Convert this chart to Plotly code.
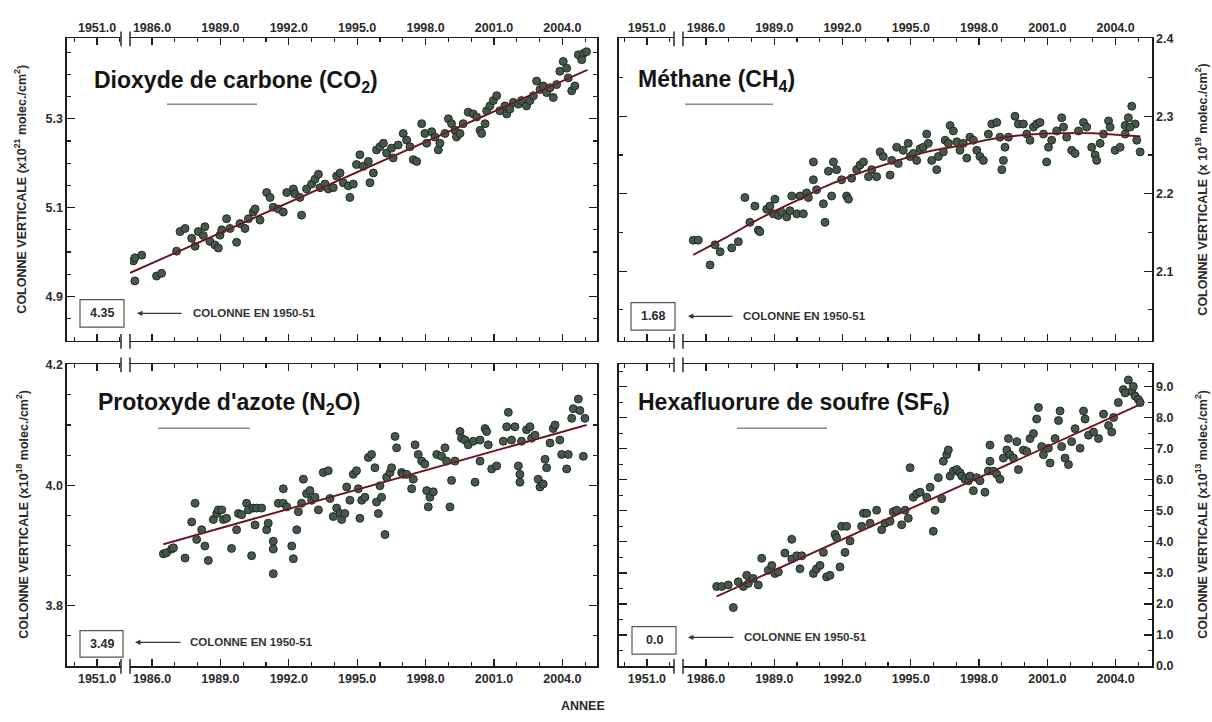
import plotly.graph_objects as go

W, H = 1212, 722

# ---------------- data ----------------
co2_years = [1985.18, 1985.25, 1985.55, 1985.25, 1986.20, 1986.42, 1987.08, 1987.23, 1987.45, 1987.74,
             1987.89, 1988.03, 1988.32, 1988.25, 1988.54, 1988.76, 1988.91, 1988.98, 1989.27, 1989.06,
             1989.42, 1989.71, 1989.86, 1990.08, 1990.23, 1990.44, 1990.52, 1990.74, 1991.03, 1991.18,
             1991.32, 1991.54, 1991.76, 1991.91, 1992.20, 1992.27, 1992.56, 1992.49, 1992.78, 1993.00,
             1993.15, 1993.30, 1993.37, 1993.59, 1993.73, 1993.95, 1994.10, 1994.25, 1994.39, 1994.61,
             1994.68, 1994.83, 1994.97, 1995.12, 1995.27, 1995.49, 1995.56, 1995.71, 1995.85, 1996.00,
             1996.15, 1996.29, 1996.51, 1996.58, 1996.80, 1997.02, 1997.17, 1997.32, 1997.46, 1997.61,
             1997.83, 1997.97, 1998.05, 1998.27, 1998.41, 1998.56, 1998.63, 1998.85, 1999.00, 1999.14,
             1999.29, 1999.36, 1999.51, 1999.65, 1999.87, 2000.09, 2000.24, 2000.39, 2000.46, 2000.61,
             2000.68, 2000.82, 2000.97, 2001.12, 2001.26, 2001.48, 2001.56, 2001.70, 2001.85, 2002.07,
             2002.21, 2002.43, 2002.58, 2002.73, 2002.87, 2003.02, 2003.16, 2003.31, 2003.46, 2003.60,
             2003.75, 2003.89, 2004.04, 2004.19, 2004.26, 2004.41, 2004.55, 2004.70, 2004.92, 2005.06,
             2004.85]
co2_vals = [4.980, 4.987, 4.993, 4.935, 4.946, 4.952, 5.002, 5.046, 5.053, 5.031,
            5.013, 5.046, 5.057, 5.037, 5.024, 5.016, 5.009, 5.038, 5.075, 5.050,
            5.053, 5.022, 5.064, 5.053, 5.075, 5.090, 5.097, 5.072, 5.134, 5.123,
            5.101, 5.097, 5.090, 5.134, 5.142, 5.131, 5.083, 5.123, 5.142, 5.153,
            5.164, 5.175, 5.145, 5.153, 5.142, 5.145, 5.171, 5.178, 5.156, 5.149,
            5.123, 5.153, 5.197, 5.219, 5.193, 5.204, 5.156, 5.178, 5.230, 5.237,
            5.245, 5.223, 5.234, 5.212, 5.241, 5.267, 5.252, 5.237, 5.208, 5.204,
            5.289, 5.267, 5.245, 5.271, 5.259, 5.230, 5.245, 5.267, 5.300, 5.289,
            5.274, 5.259, 5.267, 5.289, 5.315, 5.311, 5.304, 5.274, 5.267, 5.289,
            5.318, 5.329, 5.341, 5.352, 5.318, 5.329, 5.311, 5.322, 5.337, 5.333,
            5.341, 5.329, 5.341, 5.352, 5.385, 5.366, 5.374, 5.359, 5.370, 5.348,
            5.377, 5.407, 5.429, 5.414, 5.392, 5.363, 5.374, 5.444, 5.447, 5.451,
            5.433]
co2_fit_years = [1985.04, 2005.10]
co2_fit_vals = [4.953, 5.410]

ch4_years = [1985.44, 1985.66, 1986.18, 1986.40, 1986.62, 1987.13, 1987.42, 1987.71, 1987.93, 1988.15,
             1988.30, 1988.37, 1988.67, 1988.81, 1989.03, 1988.96, 1989.18, 1989.33, 1989.55, 1989.69,
             1989.77, 1989.99, 1990.13, 1990.28, 1990.42, 1990.50, 1990.72, 1990.72, 1990.86, 1991.16,
             1991.23, 1991.38, 1991.52, 1991.60, 1991.74, 1991.96, 1992.18, 1992.26, 1992.40, 1992.62,
             1992.77, 1992.92, 1993.14, 1993.28, 1993.50, 1993.65, 1993.79, 1994.09, 1994.16, 1994.38,
             1994.45, 1994.67, 1994.89, 1994.97, 1995.11, 1995.26, 1995.41, 1995.55, 1995.70, 1995.77,
             1995.92, 1996.14, 1996.21, 1996.43, 1996.51, 1996.65, 1996.73, 1996.87, 1997.02, 1997.16,
             1997.31, 1997.46, 1997.60, 1997.75, 1997.90, 1998.04, 1998.19, 1998.41, 1998.56, 1998.78,
             1998.92, 1999.00, 1999.07, 1999.14, 1999.29, 1999.58, 1999.73, 1999.95, 2000.10, 2000.24,
             2000.39, 2000.53, 2000.68, 2000.83, 2000.97, 2001.05, 2001.19, 2001.41, 2001.63, 2001.71,
             2001.85, 2002.07, 2002.22, 2002.37, 2002.59, 2002.73, 2002.95, 2003.10, 2003.17, 2003.32,
             2003.47, 2003.69, 2003.76, 2003.98, 2004.20, 2004.42, 2004.56, 2004.71, 2004.86, 2004.93,
             2005.08, 2004.64, 2004.42]
ch4_vals = [2.140, 2.140, 2.108, 2.134, 2.125, 2.130, 2.138, 2.195, 2.163, 2.184,
            2.153, 2.151, 2.180, 2.184, 2.193, 2.174, 2.172, 2.176, 2.170, 2.178,
            2.197, 2.174, 2.197, 2.174, 2.201, 2.195, 2.241, 2.218, 2.205, 2.187,
            2.163, 2.229, 2.197, 2.241, 2.231, 2.218, 2.197, 2.193, 2.220, 2.231,
            2.237, 2.241, 2.222, 2.231, 2.222, 2.254, 2.248, 2.224, 2.243, 2.260,
            2.239, 2.256, 2.265, 2.248, 2.252, 2.243, 2.258, 2.260, 2.277, 2.265,
            2.243, 2.231, 2.248, 2.254, 2.269, 2.265, 2.288, 2.281, 2.267, 2.256,
            2.265, 2.246, 2.273, 2.269, 2.256, 2.248, 2.243, 2.277, 2.290, 2.292,
            2.273, 2.231, 2.243, 2.260, 2.273, 2.300, 2.290, 2.290, 2.277, 2.269,
            2.286, 2.290, 2.292, 2.277, 2.241, 2.260, 2.269, 2.281, 2.298, 2.286,
            2.273, 2.256, 2.252, 2.281, 2.292, 2.286, 2.260, 2.250, 2.243, 2.265,
            2.277, 2.294, 2.286, 2.256, 2.260, 2.288, 2.298, 2.313, 2.290, 2.269,
            2.254, 2.286, 2.277]
ch4_fit_years = [1985.44, 1986.91, 1988.37, 1989.84, 1991.30, 1992.77, 1994.23, 1995.70,
                 1997.16, 1998.63, 2000.10, 2001.56, 2003.03, 2004.49, 2005.08]
ch4_fit_vals = [2.121, 2.144, 2.168, 2.189, 2.210, 2.227, 2.241, 2.254,
                2.262, 2.271, 2.276, 2.278, 2.278, 2.275, 2.274]

n2o_years = [1986.50, 1986.64, 1986.86, 1986.94, 1987.45, 1987.74, 1987.89, 1987.96, 1988.18, 1988.32,
             1988.47, 1988.69, 1988.84, 1988.91, 1989.06, 1989.13, 1989.27, 1989.49, 1989.71, 1989.79,
             1989.93, 1990.15, 1990.23, 1990.37, 1990.44, 1990.59, 1990.52, 1990.81, 1991.03, 1991.10,
             1991.32, 1991.32, 1991.32, 1991.54, 1991.76, 1991.76, 1991.91, 1992.13, 1992.20, 1992.35,
             1992.42, 1992.56, 1992.64, 1992.78, 1992.93, 1993.00, 1993.15, 1993.30, 1993.51, 1993.73,
             1993.81, 1993.95, 1994.10, 1994.25, 1994.32, 1994.46, 1994.54, 1994.68, 1994.83, 1994.97,
             1995.12, 1995.05, 1995.20, 1995.34, 1995.49, 1995.63, 1995.78, 1995.85, 1995.93, 1996.00,
             1996.07, 1996.22, 1996.29, 1996.44, 1996.51, 1996.66, 1996.73, 1996.95, 1997.02, 1997.17,
             1997.39, 1997.46, 1997.54, 1997.68, 1997.83, 1997.97, 1998.05, 1998.12, 1998.19, 1998.34,
             1998.49, 1998.70, 1998.85, 1998.92, 1999.07, 1999.14, 1999.29, 1999.51, 1999.58, 1999.73,
             1999.87, 2000.09, 2000.17, 2000.39, 2000.39, 2000.61, 2000.68, 2000.75, 2000.90, 2001.12,
             2001.41, 2001.56, 2001.63, 2001.77, 2001.92, 2002.07, 2002.14, 2002.14, 2002.21, 2002.43,
             2002.58, 2002.65, 2002.80, 2002.94, 2003.02, 2003.16, 2003.24, 2003.31, 2003.46, 2003.60,
             2003.68, 2003.89, 2003.97, 2004.19, 2004.26, 2004.41, 2004.48, 2004.70, 2004.77, 2004.99,
             2004.92]
n2o_vals = [3.886, 3.888, 3.894, 3.896, 3.879, 3.939, 3.970, 3.910, 3.926, 3.899,
            3.875, 3.943, 3.953, 3.959, 3.959, 3.943, 3.945, 3.895, 3.926, 3.953,
            3.951, 3.970, 3.959, 3.883, 3.962, 3.962, 3.934, 3.962, 3.926, 3.937,
            3.907, 3.894, 3.853, 3.970, 3.970, 3.994, 3.964, 3.899, 3.878, 3.926,
            3.956, 3.970, 4.010, 3.986, 3.991, 3.975, 3.980, 3.959, 4.021, 4.024,
            3.978, 3.948, 3.962, 3.953, 3.943, 3.953, 3.997, 3.975, 4.018, 4.024,
            3.945, 3.994, 3.975, 3.980, 4.046, 4.051, 4.029, 3.972, 3.953, 3.999,
            3.980, 3.918, 4.013, 4.021, 4.029, 4.081, 4.062, 4.021, 4.018, 4.018,
            3.994, 4.010, 4.067, 4.051, 4.040, 4.035, 3.991, 3.964, 3.980, 3.989,
            4.051, 4.048, 4.062, 4.040, 3.964, 4.008, 4.040, 4.089, 4.078, 4.075,
            4.067, 4.073, 4.005, 4.040, 4.075, 4.094, 4.089, 4.067, 4.027, 4.032,
            4.073, 4.097, 4.121, 4.075, 4.097, 4.032, 4.018, 4.005, 4.073, 4.092,
            4.097, 4.078, 4.083, 4.010, 3.997, 4.002, 4.043, 4.029, 4.070, 4.094,
            4.100, 4.075, 4.051, 4.027, 4.051, 4.111, 4.127, 4.143, 4.124, 4.111,
            4.048]
n2o_fit_years = [1986.50, 2005.06]
n2o_fit_vals = [3.902, 4.100]

sf6_years = [1986.47, 1986.69, 1986.98, 1987.20, 1987.42, 1987.64, 1987.79, 1987.86, 1988.08, 1988.30,
             1988.45, 1988.74, 1988.89, 1989.03, 1989.18, 1989.47, 1989.77, 1989.77, 1989.99, 1990.13,
             1990.21, 1990.72, 1990.86, 1991.01, 1991.16, 1991.30, 1991.45, 1991.67, 1991.74, 1991.89,
             1991.96, 1992.11, 1992.18, 1992.33, 1992.84, 1992.92, 1993.06, 1993.21, 1993.50, 1993.72,
             1993.87, 1994.09, 1994.23, 1994.38, 1994.60, 1994.75, 1994.89, 1994.97, 1995.11, 1995.26,
             1995.41, 1995.70, 1995.85, 1995.99, 1996.07, 1996.21, 1996.36, 1996.43, 1996.58, 1996.65,
             1996.73, 1996.87, 1997.02, 1997.16, 1997.24, 1997.38, 1997.53, 1997.60, 1997.75, 1997.90,
             1998.04, 1998.26, 1998.41, 1998.48, 1998.48, 1998.63, 1998.78, 1998.92, 1999.07, 1999.22,
             1999.29, 1999.36, 1999.51, 1999.66, 1999.73, 1999.95, 2000.10, 2000.24, 2000.39, 2000.53,
             2000.61, 2000.75, 2000.83, 2001.05, 2001.12, 2001.34, 2001.49, 2001.56, 2001.63, 2001.78,
             2001.93, 2002.07, 2002.22, 2002.44, 2002.59, 2002.66, 2002.81, 2003.03, 2003.25, 2003.47,
             2003.69, 2003.83, 2003.91, 2004.12, 2004.34, 2004.56, 2004.71, 2004.86, 2005.00, 2005.08,
             2004.42, 2004.78]
sf6_vals = [2.56, 2.56, 2.61, 1.88, 2.71, 2.56, 2.92, 2.66, 2.82, 2.61,
            3.47, 3.08, 3.24, 2.98, 3.03, 3.64, 4.08, 3.45, 3.55, 3.13,
            3.55, 2.98, 3.13, 3.24, 3.66, 2.87, 2.92, 4.24, 4.13, 3.19,
            4.50, 3.66, 4.50, 4.03, 4.50, 4.92, 4.92, 4.60, 5.02, 4.39,
            4.60, 4.66, 4.97, 5.02, 4.55, 5.02, 4.76, 6.39, 5.44, 5.55,
            5.60, 5.44, 5.76, 4.34, 5.02, 6.07, 5.39, 6.60, 6.81, 6.96,
            6.12, 6.28, 6.33, 6.23, 6.12, 6.02, 5.97, 6.12, 5.65, 6.07,
            5.97, 5.60, 6.28, 7.12, 6.60, 6.28, 6.18, 6.02, 6.70, 6.96,
            7.33, 6.81, 6.70, 7.23, 6.33, 6.96, 6.91, 7.33, 7.49, 7.96,
            8.33, 7.07, 6.81, 7.02, 6.54, 7.33, 7.91, 8.22, 7.07, 6.70,
            6.49, 7.23, 7.65, 7.02, 8.22, 7.96, 7.44, 7.54, 7.33, 8.12,
            7.75, 7.54, 8.01, 8.49, 8.91, 9.22, 8.85, 8.70, 8.59, 8.49,
            8.80, 9.01]
sf6_fit_years = [1986.47, 2005.08]
sf6_fit_vals = [2.24, 8.43]

titles = ["Dioxyde de carbone (CO<sub>2</sub>)", "Méthane (CH<sub>4</sub>)",
          "Protoxyde d'azote (N<sub>2</sub>O)", "Hexafluorure de soufre (SF<sub>6</sub>)"]
col_1950_values = ["4.35", "1.68", "3.49", "0.0"]
col_1950_label = "COLONNE EN 1950-51"
y_titles = ["COLONNE VERTICALE (x10<sup>21</sup> molec./cm<sup>2</sup>)",
            "COLONNE VERTICALE (x 10<sup>19</sup> molec./cm<sup>2</sup>)",
            "COLONNE VERTICALE (x10<sup>18</sup> molec./cm<sup>2</sup>)",
            "COLONNE VERTICALE (x10<sup>13</sup> molec./cm<sup>2</sup>)"]
x_title = "ANNEE"
early_tick = [1951]
early_minor = [1950, 1952]

series = [(co2_years, co2_vals, co2_fit_years, co2_fit_vals),
          (ch4_years, ch4_vals, ch4_fit_years, ch4_fit_vals),
          (n2o_years, n2o_vals, n2o_fit_years, n2o_fit_vals),
          (sf6_years, sf6_vals, sf6_fit_years, sf6_fit_vals)]

# ---------------- layout geometry (pixels) ----------------
panels = [
    dict(x0=67, xb0=121, xb1=130, x1=597, y0=33, y1=341, top=True, left=True,
         xr_small=[1949.68, 1952.05], xr_main=[1985.035, 2005.52],
         yr=[4.80, 5.481], ytick0=4.9, ydtick=0.2, yminor=0.05, ymtick0=4.8,
         title_x=92, title_y=77, gl=(167, 257, 100),
         box=(80, 124, 299, 327), arrow=(137, 183, 313), lab_x=191,
         ytitle_x=20, ytitle_y=187, spline=False),
    dict(x0=619, xb0=674, xb1=683, x1=1152, y0=33, y1=341, top=True, left=False,
         xr_small=[1949.77, 1952.19], xr_main=[1984.99, 2005.60],
         yr=[2.01, 2.4005], ytick0=2.1, ydtick=0.1, yminor=0.05, ymtick0=2.0,
         title_x=636, title_y=76, gl=(685, 773, 100),
         box=(631, 675, 302, 330), arrow=(688, 734, 316), lab_x=741,
         ytitle_x=1201, ytitle_y=187, spline=True),
    dict(x0=67, xb0=121, xb1=130, x1=597, y0=365, y1=672, top=False, left=True,
         xr_small=[1949.68, 1952.05], xr_main=[1985.035, 2005.52],
         yr=[3.70, 4.2005], ytick0=3.8, ydtick=0.2, yminor=0.05, ymtick0=3.7,
         title_x=96, title_y=405, gl=(158, 250, 430),
         box=(80, 123, 636, 663), arrow=(135, 182, 648), lab_x=188,
         ytitle_x=22, ytitle_y=518, spline=False),
    dict(x0=619, xb0=674, xb1=683, x1=1152, y0=365, y1=672, top=False, left=False,
         xr_small=[1949.77, 1952.19], xr_main=[1984.99, 2005.60],
         yr=[0.0, 9.72], ytick0=0.0, ydtick=1.0, yminor=0.5, ymtick0=0.0,
         title_x=636, title_y=405, gl=(737, 827, 430),
         box=(632, 676, 632, 660), arrow=(688, 735, 643), lab_x=742,
         ytitle_x=1201, ytitle_y=518, spline=False),
]

FONT = "Liberation Sans, Arial, Helvetica, sans-serif"
INK = "#1c1c1c"
TXT = "#2a2a2a"
tickfont = dict(family=FONT, size=12.5, color=TXT, weight="bold")


def fx(p):
    return p / W


def fy(p):
    return 1 - p / H


def xname(n):
    return "x" if n == 1 else f"x{n}"


def yname(n):
    return "y" if n == 1 else f"y{n}"


def xkey(n):
    return "xaxis" if n == 1 else f"xaxis{n}"


def ykey(n):
    return "yaxis" if n == 1 else f"yaxis{n}"


fig = go.Figure()
layout = {}
shapes = []
annotations = []

for k, (p, (yrs, vals, fyrs, fvals)) in enumerate(zip(panels, series)):
    xs_id, xm_id = 2 * k + 1, 2 * k + 2
    yl_id, yr_id = 2 * k + 1, 2 * k + 2

    ydom = [fy(p["y1"]), fy(p["y0"])]
    side_x = "top" if p["top"] else "bottom"
    common_x = dict(anchor=yname(yl_id), side=side_x, showline=True, linecolor=INK, linewidth=1.6,
                    mirror="ticks", ticks="inside", ticklen=7, tickwidth=1.3, tickcolor=INK,
                    tickfont=tickfont, tickformat=".1f", showgrid=False, zeroline=False,
                    fixedrange=True)
    layout[xkey(xs_id)] = dict(domain=[fx(p["x0"]), fx(p["xb0"])], range=p["xr_small"],
                              tickmode="array", tickvals=early_tick,
                              minor=dict(tickmode="array", tickvals=early_minor, ticks="inside",
                                         ticklen=4, tickwidth=1.1, tickcolor=INK),
                              **common_x)
    layout[xkey(xm_id)] = dict(domain=[fx(p["xb1"]), fx(p["x1"])], range=p["xr_main"],
                              tickmode="linear", tick0=1986, dtick=3,
                              minor=dict(tick0=1986, dtick=1, ticks="inside", ticklen=4,
                                         tickwidth=1.1, tickcolor=INK),
                              **common_x)
    common_y = dict(domain=ydom, range=p["yr"], showline=True, linecolor=INK, linewidth=1.6,
                    ticks="inside", ticklen=8, tickwidth=1.3, tickcolor=INK,
                    tickmode="linear", tick0=p["ytick0"], dtick=p["ydtick"], tickformat=".1f",
                    minor=dict(tick0=p["ymtick0"], dtick=p["yminor"], ticks="inside", ticklen=4,
                               tickwidth=1.1, tickcolor=INK),
                    tickfont=tickfont, showgrid=False, zeroline=False, fixedrange=True)
    layout[ykey(yl_id)] = dict(anchor=xname(xs_id), side="left", showticklabels=p["left"], **common_y)
    layout[ykey(yr_id)] = dict(anchor=xname(xm_id), side="right", overlaying=yname(yl_id),
                              showticklabels=not p["left"], **common_y)

    # axis registration helpers (no visible marks)
    fig.add_trace(go.Scatter(x=[], y=[], xaxis=xname(xs_id), yaxis=yname(yl_id),
                             showlegend=False, hoverinfo="skip"))
    fig.add_trace(go.Scatter(x=[], y=[], xaxis=xname(xm_id), yaxis=yname(yr_id),
                             showlegend=False, hoverinfo="skip"))

    # measurements
    fig.add_trace(go.Scatter(x=yrs, y=vals, mode="markers", xaxis=xname(xm_id), yaxis=yname(yl_id),
                             marker=dict(size=8, color="#44594c",
                                         line=dict(color="#1b221e", width=0.9)),
                             showlegend=False, hoverinfo="skip"))
    # fitted trend (red under black)
    shape_kind = "spline" if p["spline"] else "linear"
    fig.add_trace(go.Scatter(x=fyrs, y=fvals, mode="lines", xaxis=xname(xm_id), yaxis=yname(yl_id),
                             line=dict(color="#b8263c", width=2.0, shape=shape_kind),
                             showlegend=False, hoverinfo="skip"))
    fig.add_trace(go.Scatter(x=fyrs, y=fvals, mode="lines", xaxis=xname(xm_id), yaxis=yname(yl_id),
                             line=dict(color="#1a1a1a", width=1.1, shape=shape_kind),
                             opacity=0.8, showlegend=False, hoverinfo="skip"))

    # axis break marks on top and bottom frame lines
    for yy in (p["y0"], p["y1"]):
        for xx in (p["xb0"], p["xb1"]):
            shapes.append(dict(type="line", xref="paper", yref="paper",
                               x0=fx(xx), x1=fx(xx), y0=fy(yy - 7), y1=fy(yy + 8),
                               line=dict(color=INK, width=1.4)))

    # panel title and grey rule below it
    annotations.append(dict(text=f"<b>{titles[k]}</b>", xref="paper", yref="paper",
                            x=fx(p["title_x"]), y=fy(p["title_y"]), xanchor="left", yanchor="middle",
                            showarrow=False, font=dict(family=FONT, size=23, color="#151515")))
    gx0, gx1, gy = p["gl"]
    shapes.append(dict(type="line", xref="paper", yref="paper", x0=fx(gx0), x1=fx(gx1),
                       y0=fy(gy), y1=fy(gy), line=dict(color="#8a8a8a", width=1.6)))

    # 1950-51 value box + arrow + label
    bx0, bx1, by0, by1 = p["box"]
    shapes.append(dict(type="rect", xref="paper", yref="paper", x0=fx(bx0), x1=fx(bx1),
                       y0=fy(by1), y1=fy(by0), line=dict(color="#555555", width=1.2),
                       fillcolor="white"))
    annotations.append(dict(text=f"<b>{col_1950_values[k]}</b>", xref="paper", yref="paper",
                            x=fx((bx0 + bx1) / 2), y=fy((by0 + by1) / 2), xanchor="center",
                            yanchor="middle", showarrow=False,
                            font=dict(family=FONT, size=12.5, color=TXT)))
    ax0, ax1, ay = p["arrow"]
    annotations.append(dict(text="", xref="paper", yref="paper", x=fx(ax0), y=fy(ay),
                            ax=ax1 - ax0, ay=0, showarrow=True, arrowhead=2, arrowsize=0.9,
                            arrowwidth=1.2, arrowcolor="#333333"))
    annotations.append(dict(text=f"<b>{col_1950_label}</b>", xref="paper", yref="paper",
                            x=fx(p["lab_x"]), y=fy(ay), xanchor="left", yanchor="middle",
                            showarrow=False, font=dict(family=FONT, size=11.5, color="#333333")))

    # vertical axis title
    annotations.append(dict(text=f"<b>{y_titles[k]}</b>", xref="paper", yref="paper",
                            x=fx(p["ytitle_x"]), y=fy(p["ytitle_y"]), xanchor="center",
                            yanchor="middle", textangle=-90, showarrow=False,
                            font=dict(family=FONT, size=12.5, color=TXT)))

annotations.append(dict(text=f"<b>{x_title}</b>", xref="paper", yref="paper", x=fx(583), y=fy(713),
                        xanchor="center", yanchor="middle", showarrow=False,
                        font=dict(family=FONT, size=12.5, color=TXT)))

fig.update_layout(**layout)
fig.update_layout(width=W, height=H, margin=dict(l=0, r=0, t=0, b=0, pad=0),
                  paper_bgcolor="white", plot_bgcolor="white", showlegend=False,
                  hovermode=False, shapes=shapes, annotations=annotations)

fig.write_html("out.html", config={"displayModeBar": False, "staticPlot": True},
               post_script="document.body.style.margin='0';document.body.style.overflow='hidden';")
